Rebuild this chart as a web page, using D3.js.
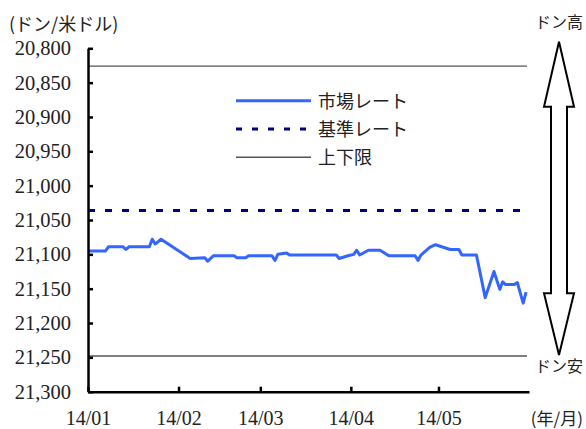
<!DOCTYPE html>
<html><head><meta charset="utf-8">
<script src="https://cdn.jsdelivr.net/npm/d3@7"></script>
<style>body{margin:0;background:#fff}svg{display:block}
.num text{font-family:"Liberation Serif","DejaVu Serif","Times New Roman",serif !important;}
</style>
</head><body>
<script>
// ---- data ----
const dates = ["2014-01-01","2014-01-07","2014-01-08","2014-01-13","2014-01-14","2014-01-15","2014-01-22","2014-01-23","2014-01-24","2014-01-26",
"2014-02-05","2014-02-10","2014-02-11","2014-02-13","2014-02-20","2014-02-21","2014-02-24","2014-02-25",
"2014-03-05","2014-03-06","2014-03-07","2014-03-10","2014-03-11","2014-03-27","2014-03-28","2014-03-31",
"2014-04-02","2014-04-03","2014-04-04","2014-04-07","2014-04-11","2014-04-14","2014-04-23","2014-04-24","2014-04-25","2014-04-28","2014-04-30",
"2014-05-05","2014-05-08","2014-05-09","2014-05-14","2014-05-17","2014-05-20","2014-05-22","2014-05-23","2014-05-24","2014-05-27","2014-05-28","2014-05-30","2014-05-31"];
const marketRate = [21095,21095,21089,21089,21093,21089,21089,21078,21085,21078,
21106,21105,21110,21102,21102,21105,21105,21102,
21102,21109,21100,21098,21101,21101,21106,21102,
21100,21094,21101,21094,21094,21102,21102,21109,21101,21090,21086,
21093,21093,21101,21101,21163,21125,21151,21140,21144,21144,21141,21171,21155];
const referenceRate = 21036;
const upperLimit = 20826;
const lowerLimit = 21248;
const yTicks = [20800,20850,20900,20950,21000,21050,21100,21150,21200,21250,21300];
const xTickDates = ["2014-01-01","2014-02-01","2014-03-01","2014-04-01","2014-05-01"];
const xTickLabels = ["14/01","14/02","14/03","14/04","14/05"];
const xDomain = ["2014-01-01","2014-06-01"];
const legendLabels = ["市場レート","基準レート","上下限"];

// ---- chart ----
const W = 586, H = 429;
const L = 88, R = 529, T = 48.3, B = 391.7;
const parse = d3.timeParse("%Y-%m-%d");
const svg = d3.select("body").append("svg").attr("width", W).attr("height", H);

const x = d3.scaleTime().domain(xDomain.map(parse)).range([L, R]);
const y = d3.scaleLinear().domain([20800, 21300]).range([T, B]);

const data = dates.map((d, i) => ({date: parse(d), v: marketRate[i]}));

// limit lines
svg.selectAll("line.limit").data([upperLimit, lowerLimit]).enter().append("line")
  .attr("class","limit")
  .attr("x1", L).attr("x2", R - 2)
  .attr("y1", d => y(d)).attr("y2", d => y(d))
  .attr("stroke", "#555").attr("stroke-width", 1.3);

// reference line
svg.append("line")
  .attr("x1", L).attr("x2", R - 2)
  .attr("y1", y(referenceRate)).attr("y2", y(referenceRate))
  .attr("stroke", "#000080").attr("stroke-width", 3)
  .attr("stroke-dasharray", "7,10");

// market line
svg.append("path").datum(data)
  .attr("fill","none").attr("stroke","#3366ff").attr("stroke-width",3)
  .attr("stroke-linejoin","round")
  .attr("d", d3.line().x(d => x(d.date)).y(d => y(d.v)));

// axes
const yAxis = d3.axisLeft(y).tickValues(yTicks).tickFormat(d3.format(",")).tickSizeInner(-5).tickSizeOuter(0).tickPadding(17);
const gy = svg.append("g").attr("class","num").attr("transform", `translate(${L},0)`).call(yAxis)
  .attr("font-family", null).attr("font-size", null);
gy.select(".domain").attr("stroke","#000").attr("stroke-width",2.5);
gy.selectAll(".tick line").attr("stroke","#000").attr("stroke-width",2.5);
gy.selectAll("text").style("font-size","20.5px").style("fill","#222");

const xAxis = d3.axisBottom(x).tickValues(xTickDates.map(parse))
  .tickFormat((d, i) => xTickLabels[i]).tickSizeInner(-5).tickSizeOuter(0).tickPadding(19);
const gx = svg.append("g").attr("class","num").attr("transform", `translate(0,${B})`).call(xAxis)
  .attr("font-family", null).attr("font-size", null);
gx.select(".domain").attr("stroke","#000").attr("stroke-width",2.5);
gx.selectAll(".tick line").attr("stroke","#000").attr("stroke-width",2.5);
gx.selectAll("text").style("font-size","20px").style("fill","#222");

const jp = "'Noto Sans CJK JP', sans-serif";
svg.append("text").attr("x", 9).attr("y", 31).text("(ドン/米ドル)")
  .attr("font-family", jp).attr("font-size","18px").attr("fill","#222");
svg.append("text").attr("x", 583).attr("y", 425).attr("text-anchor","end").text("(年/月)")
  .attr("font-family", jp).attr("font-size","17px").attr("fill","#222");
svg.append("text").attr("x", 559).attr("y", 28).attr("text-anchor","middle").text("ドン高")
  .attr("font-family", jp).attr("font-size","16px").attr("fill","#222");
svg.append("text").attr("x", 559).attr("y", 372).attr("text-anchor","middle").text("ドン安")
  .attr("font-family", jp).attr("font-size","16px").attr("fill","#222");

// legend
const legStyles = [
  {stroke:"#3366ff", w:3, dash:null},
  {stroke:"#000080", w:3, dash:"6,10"},
  {stroke:"#555", w:1.5, dash:null}
];
const lg = svg.append("g");
legendLabels.forEach((t, i) => {
  const ly = 100.7 + i * 28.3;
  lg.append("line").attr("x1", 236).attr("x2", 311).attr("y1", ly).attr("y2", ly)
    .attr("stroke", legStyles[i].stroke).attr("stroke-width", legStyles[i].w)
    .attr("stroke-dasharray", legStyles[i].dash);
  lg.append("text").attr("x", 318).attr("y", ly).attr("dy","0.38em").text(t)
    .attr("font-family", jp).attr("font-size","18px").attr("fill","#222");
});

// double arrow
const cx = 559, tipT = 41.7, tipB = 355, baseT = 106.7, baseB = 293.3, hw = 15, sw = 8;
const arrow = d3.path();
arrow.moveTo(cx, tipT);
arrow.lineTo(cx + hw, baseT); arrow.lineTo(cx + sw, baseT);
arrow.lineTo(cx + sw, baseB); arrow.lineTo(cx + hw, baseB);
arrow.lineTo(cx, tipB);
arrow.lineTo(cx - hw, baseB); arrow.lineTo(cx - sw, baseB);
arrow.lineTo(cx - sw, baseT); arrow.lineTo(cx - hw, baseT);
arrow.closePath();
svg.append("path").attr("d", arrow.toString()).attr("fill","#fff").attr("stroke","#000").attr("stroke-width",2).attr("stroke-linejoin","miter");
</script>
</body></html>
